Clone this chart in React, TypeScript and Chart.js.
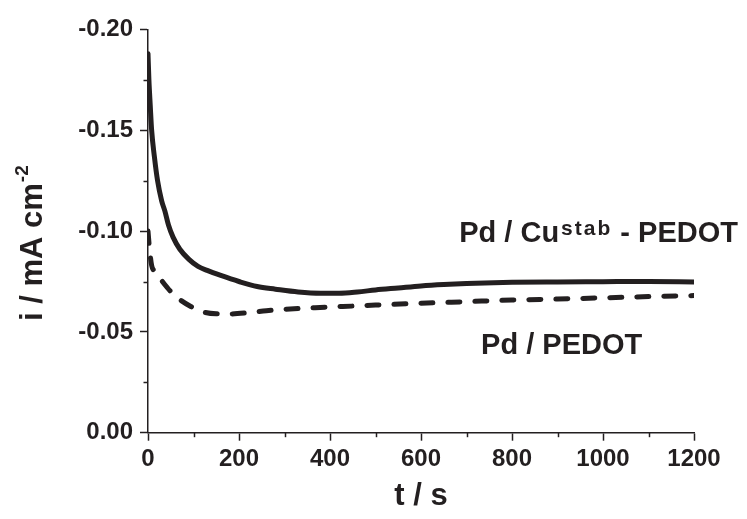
import React, { useEffect, useRef } from 'react';
import { Chart, registerables } from 'chart.js';

Chart.register(...registerables);

// ---- data ----
const solidT = [0, 2, 5, 8, 14, 21, 30, 37, 45, 55, 70, 90, 110, 130, 160, 200, 240, 280, 330, 380, 420, 460, 500, 550, 600, 650, 700, 800, 900, 1000, 1100, 1200];
const solidI = [-0.188, -0.175, -0.162, -0.150, -0.137, -0.125, -0.115, -0.110, -0.103, -0.097, -0.091, -0.086, -0.0825, -0.0805, -0.078, -0.075, -0.0725, -0.0712, -0.0698, -0.0692, -0.0692, -0.0698, -0.0708, -0.0718, -0.0728, -0.0735, -0.074, -0.0746, -0.0748, -0.0749, -0.075, -0.0748];

const dashT = [0, 3, 8, 15, 25, 35, 50, 70, 95, 120, 150, 180, 220, 260, 300, 350, 400, 450, 500, 600, 700, 800, 900, 1000, 1100, 1200];
const dashI = [-0.100, -0.092, -0.083, -0.080, -0.077, -0.074, -0.070, -0.066, -0.0625, -0.060, -0.059, -0.0589, -0.0595, -0.0605, -0.0612, -0.0618, -0.0624, -0.0628, -0.0633, -0.0642, -0.065, -0.0658, -0.0663, -0.0669, -0.0675, -0.068];

const xTickValues = [0, 200, 400, 600, 800, 1000, 1200];
const xMinorValues = [100, 300, 500, 700, 900, 1100];
const yTickValues = [-0.20, -0.15, -0.10, -0.05, 0.0];
const yMinorValues = [-0.175, -0.125, -0.075, -0.025];

const xTitle = 't / s';
const yTitleMain = 'i / mA cm';
const yTitleSup = '-2';
const labelCu = ['Pd / Cu', 'stab', ' - PEDOT'];
const labelPd = 'Pd / PEDOT';

const INK = '#231f20';
const FAMILY = '"Liberation Sans", Arial, Helvetica, sans-serif';

const decorPlugin = {
  id: 'decor',
  afterDraw(chart: any) {
    const { ctx, scales } = chart;
    const x = scales.x;
    const y = scales.y;
    ctx.save();
    ctx.strokeStyle = INK;
    ctx.fillStyle = INK;
    ctx.lineWidth = 1.5;
    // minor ticks
    for (const v of yMinorValues) {
      const py = Math.round(y.getPixelForValue(v)) + 0.5;
      ctx.beginPath();
      ctx.moveTo(y.right - 4.5, py);
      ctx.lineTo(y.right, py);
      ctx.stroke();
    }
    for (const v of xMinorValues) {
      const px = Math.round(x.getPixelForValue(v)) + 0.5;
      ctx.beginPath();
      ctx.moveTo(px, x.top);
      ctx.lineTo(px, x.top + 4.5);
      ctx.stroke();
    }

    // y title (rotated, with superscript)
    ctx.textBaseline = 'alphabetic';
    ctx.textAlign = 'left';
    const mainFont = `bold 31px ${FAMILY}`;
    const supFont = `bold 19px ${FAMILY}`;
    ctx.font = mainFont;
    const wMain = ctx.measureText(yTitleMain).width;
    ctx.font = supFont;
    const wSup = ctx.measureText(yTitleSup).width;
    const total = wMain + wSup + 1;
    const cy = (chart.chartArea.top + chart.chartArea.bottom) / 2 + 12;
    ctx.save();
    ctx.translate(42, cy + total / 2);
    ctx.rotate(-Math.PI / 2);
    ctx.font = mainFont;
    ctx.fillText(yTitleMain, 0, 0);
    ctx.font = supFont;
    ctx.fillText(yTitleSup, wMain + 1, -14);
    ctx.restore();

    // annotation: Pd / Cu^stab - PEDOT
    const annFont = `bold 29px ${FAMILY}`;
    const annSup = `bold 21px ${FAMILY}`;
    let ax = x.getPixelForValue(684);
    const ay = y.getPixelForValue(-0.0946);
    ctx.font = annFont;
    ctx.fillText(labelCu[0], ax, ay);
    ax += ctx.measureText(labelCu[0]).width + 2;
    ctx.font = annSup;
    (ctx as any).letterSpacing = '2px';
    ctx.fillText(labelCu[1], ax, ay - 7);
    ax += ctx.measureText(labelCu[1]).width;
    (ctx as any).letterSpacing = '0px';
    ctx.font = annFont;
    ctx.fillText(labelCu[2], ax, ay);

    // annotation: Pd / PEDOT
    ctx.fillText(labelPd, x.getPixelForValue(732), y.getPixelForValue(-0.039));
    ctx.restore();
  },
};

export default function App() {
  const ref = useRef<HTMLCanvasElement | null>(null);

  useEffect(() => {
    if (!ref.current) return;
    const chart = new Chart(ref.current, {
      type: 'line',
      data: {
        datasets: [
          {
            data: solidT.map((t, i) => ({ x: t, y: solidI[i] })),
            borderColor: INK,
            borderWidth: 5,
            pointRadius: 0,
            cubicInterpolationMode: 'monotone',
            borderCapStyle: 'round',
            borderJoinStyle: 'round',
            fill: false,
          },
          {
            data: dashT.map((t, i) => ({ x: t, y: dashI[i] })),
            borderColor: INK,
            borderWidth: 5,
            pointRadius: 0,
            cubicInterpolationMode: 'monotone',
            borderDash: [12, 15],
            borderCapStyle: 'round',
            borderJoinStyle: 'round',
            fill: false,
          },
        ],
      },
      options: {
        animation: false,
        responsive: false,
        devicePixelRatio: 1,
        layout: { padding: { left: 0, right: 53, top: 29.5, bottom: 0 } },
        plugins: {
          legend: { display: false },
          tooltip: { enabled: false },
        },
        scales: {
          x: {
            type: 'linear',
            min: 0,
            max: 1200,
            afterFit: (s: any) => {
              s.height = 86.3;
            },
            afterBuildTicks: (s: any) => {
              s.ticks = xTickValues.map((v) => ({ value: v }));
            },
            ticks: {
              autoSkip: false,
              maxRotation: 0,
              padding: 4,
              color: INK,
              font: { family: FAMILY, size: 24, weight: 'bold' },
              callback: (v: any) => String(v),
            },
            grid: {
              drawOnChartArea: false,
              drawTicks: true,
              tickLength: 8,
              tickWidth: 1.5,
              tickColor: INK,
            },
            border: { display: true, color: INK, width: 1.5 },
            title: {
              display: true,
              text: xTitle,
              color: INK,
              font: { family: FAMILY, size: 31, weight: 'bold' },
              padding: { top: 0, bottom: 4 },
            },
          },
          y: {
            type: 'linear',
            min: -0.2,
            max: 0,
            reverse: true,
            afterFit: (s: any) => {
              s.width = 148;
            },
            afterBuildTicks: (s: any) => {
              s.ticks = yTickValues.map((v) => ({ value: v }));
            },
            ticks: {
              autoSkip: false,
              padding: 7,
              color: INK,
              font: { family: FAMILY, size: 24, weight: 'bold' },
              callback: (v: any) => Number(v).toFixed(2),
            },
            grid: {
              drawOnChartArea: false,
              drawTicks: true,
              tickLength: 8,
              tickWidth: 1.5,
              tickColor: INK,
            },
            border: { display: true, color: INK, width: 1.5 },
          },
        },
      } as any,
      plugins: [decorPlugin],
    });
    return () => chart.destroy();
  }, []);

  return (
    <div style={{ position: 'fixed', left: 0, top: 0, width: 747, height: 519, background: '#fff' }}>
      <canvas ref={ref} width={747} height={519} style={{ display: 'block' }} />
    </div>
  );
}
